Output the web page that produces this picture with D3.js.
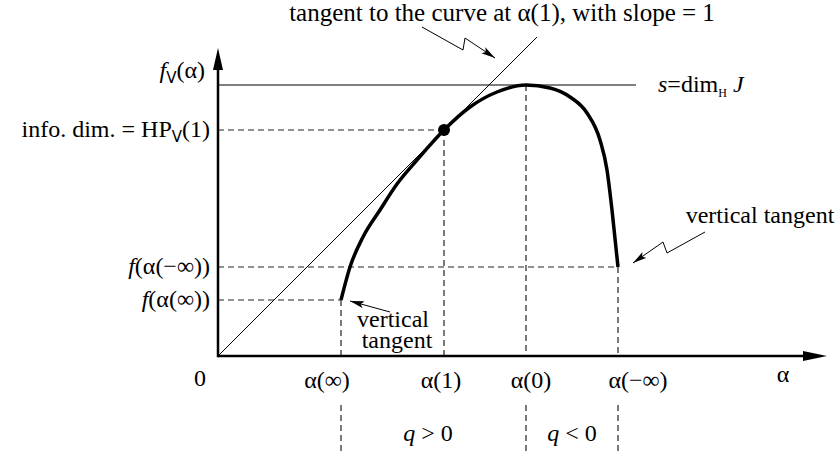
<!DOCTYPE html>
<html>
<head>
<meta charset="utf-8">
<script src="https://cdn.jsdelivr.net/npm/d3@7"></script>
</head>
<body style="margin:0">
<script>
// alpha positions marked on the horizontal axis
var alphaNames  = ["α(∞)", "α(1)", "α(0)", "α(−∞)"];
var alphaValues = [1.23, 2.26, 3.08, 4.00];

// levels marked on the vertical axis
var levelNames  = ["f(α(∞))", "f(α(−∞))", "info", "s"];
var levelValues = [0.56, 0.89, 2.26, 2.71];

// the f(alpha) curve
var curveAlpha = [1.23, 1.32, 1.45, 1.62, 1.79, 1.99, 2.26, 2.52, 2.79, 3.08, 3.32, 3.52, 3.69, 3.82, 3.89, 3.94, 4.00];
var curveF     = [0.56, 0.89, 1.19, 1.46, 1.72, 1.96, 2.26, 2.49, 2.64, 2.71, 2.68, 2.59, 2.43, 2.16, 1.86, 1.46, 0.89];

// axis extents and the slope-1 tangent
var axisMax    = [6.09, 3.08];
var tangentEnd = 3.19;
var sLineEnd   = 4.18;

var W = 839, H = 459;
var svg = d3.select("body").append("svg")
  .attr("width", W).attr("height", H);

var x = d3.scaleLinear().domain([0, axisMax[0]]).range([218, 827]);
var y = d3.scaleLinear().domain([0, axisMax[1]]).range([356, 48]);

var defs = svg.append("defs");
defs.append("marker").attr("id", "ptr")
  .attr("viewBox", "0 0 14 8").attr("refX", 14).attr("refY", 4)
  .attr("markerWidth", 14).attr("markerHeight", 8)
  .attr("markerUnits", "userSpaceOnUse").attr("orient", "auto")
  .append("path").attr("d", "M0,0.5 L14,4 L0,7.5 L3,4 Z").attr("fill", "#000");

var dash = "6,4";
var ink = "#222";

// dashed guides
var iInf = 0, i1 = 1, i0 = 2, iNeg = 3;
function dline(x1, y1, x2, y2) {
  svg.append("line")
    .attr("x1", x1).attr("y1", y1).attr("x2", x2).attr("y2", y2)
    .attr("stroke", ink).attr("stroke-width", 1.2)
    .attr("stroke-dasharray", dash);
}
dline(x(0), y(levelValues[2]), x(alphaValues[i1]), y(levelValues[2]));
dline(x(alphaValues[i1]), y(levelValues[2]), x(alphaValues[i1]), y(0));
dline(x(0), y(levelValues[1]), x(alphaValues[iNeg]), y(levelValues[1]));
dline(x(alphaValues[iNeg]), y(levelValues[1]), x(alphaValues[iNeg]), y(0));
dline(x(0), y(levelValues[0]), x(alphaValues[iInf]), y(levelValues[0]));
dline(x(alphaValues[iInf]), y(levelValues[0]), x(alphaValues[iInf]), y(0));
dline(x(alphaValues[i0]), y(levelValues[3]), x(alphaValues[i0]), y(0));
// q-range separators below the axis
[iInf, i0, iNeg].forEach(function (i) {
  dline(x(alphaValues[i]), 405, x(alphaValues[i]), 453);
});

// s line and tangent line
svg.append("line")
  .attr("x1", x(0)).attr("y1", y(levelValues[3]))
  .attr("x2", x(sLineEnd)).attr("y2", y(levelValues[3]))
  .attr("stroke", "#000").attr("stroke-width", 1);
svg.append("line")
  .attr("x1", x(0)).attr("y1", y(0))
  .attr("x2", x(tangentEnd)).attr("y2", y(tangentEnd))
  .attr("stroke", "#000").attr("stroke-width", 1);

// axes with filled arrowheads
svg.append("line")
  .attr("x1", x(0)).attr("y1", y(0)).attr("x2", x(axisMax[0]) - 20).attr("y2", y(0))
  .attr("stroke", "#000").attr("stroke-width", 2.5);
svg.append("line")
  .attr("x1", x(0)).attr("y1", y(0) + 1.2).attr("x2", x(0)).attr("y2", y(axisMax[1]) + 18)
  .attr("stroke", "#000").attr("stroke-width", 2.5);
svg.append("path")
  .attr("d", d3.line()([[x(axisMax[0]), y(0)], [x(axisMax[0]) - 24, y(0) - 5], [x(axisMax[0]) - 24, y(0) + 5]]) + "Z")
  .attr("fill", "#000");
svg.append("path")
  .attr("d", d3.line()([[x(0), y(axisMax[1])], [x(0) - 5, y(axisMax[1]) + 22], [x(0) + 5, y(axisMax[1]) + 22]]) + "Z")
  .attr("fill", "#000");

// the curve
var pts = curveAlpha.map(function (a, i) { return [x(a), y(curveF[i])]; });
svg.append("path")
  .attr("d", d3.line().curve(d3.curveMonotoneX)(pts))
  .attr("fill", "none").attr("stroke", "#000")
  .attr("stroke-width", 3.5).attr("stroke-linecap", "butt");

svg.append("circle")
  .attr("cx", x(alphaValues[i1])).attr("cy", y(levelValues[2])).attr("r", 6)
  .attr("fill", "#000");

var fs = 24;

function txt(px, py, anchor) {
  return svg.append("text").attr("x", px).attr("y", py)
    .attr("font-size", fs).attr("font-family", "Liberation Serif")
    .attr("text-anchor", anchor);
}

// x labels
var xLabelDx = [-14, -3, 5, 20];
alphaNames.forEach(function (t, i) {
  txt(x(alphaValues[i]) + xLabelDx[i], 388, "middle").text(t);
});
txt(x(0) - 18, 386, "middle").text("0");
txt(783, 382, "middle").text("α");

// y labels
function ylab(i) {
  return txt(x(0) - 8, y(levelValues[i]) + 7, "end");
}
ylab(0).call(function (t) {
  t.append("tspan").attr("font-style", "italic").text("f");
  t.append("tspan").text("(α(∞))");
});
ylab(1).call(function (t) {
  t.append("tspan").attr("font-style", "italic").text("f");
  t.append("tspan").text("(α(−∞))");
});
ylab(2).call(function (t) {
  t.append("tspan").text("info. dim. = HP");
  t.append("tspan").attr("font-family", "DejaVu Sans").attr("font-size", 15).attr("dy", 5).text("V");
  t.append("tspan").attr("dy", -5).text("(1)");
});

// f_v(alpha) axis title
txt(x(0) - 13, 78, "end").call(function (t) {
  t.append("tspan").attr("font-style", "italic").text("f");
  t.append("tspan").attr("font-family", "DejaVu Sans").attr("font-size", 15).attr("dy", 5).text("V");
  t.append("tspan").attr("dy", -5).text("(α)");
});

// s = dim_H J
txt(658, y(levelValues[3]) + 7, "start").call(function (t) {
  t.append("tspan").attr("font-style", "italic").text("s");
  t.append("tspan").text("=dim");
  t.append("tspan").attr("font-size", 12).attr("dy", 5).text("H");
  t.append("tspan").attr("dy", -5).attr("font-style", "italic").text(" J");
});

// q ranges
txt(428, 441, "middle").call(function (t) {
  t.append("tspan").attr("font-style", "italic").text("q");
  t.append("tspan").text(" > 0");
});
txt(572, 441, "middle").call(function (t) {
  t.append("tspan").attr("font-style", "italic").text("q");
  t.append("tspan").text(" < 0");
});

// annotations
txt(502, 21, "middle").attr("font-size", 25).text("tangent to the curve at α(1), with slope = 1");
txt(760, 223, "middle").text("vertical tangent");
txt(393, 327, "middle").text("vertical");
txt(397, 348, "middle").text("tangent");

function arrow(p) {
  svg.append("path").attr("d", d3.line()(p))
    .attr("fill", "none").attr("stroke", "#000").attr("stroke-width", 1)
    .attr("marker-end", "url(#ptr)");
}
arrow([[422, 27], [463, 50], [465, 38], [495, 58]]);
arrow([[705, 232], [667, 253], [663, 242], [633, 263]]);
arrow([[390, 312], [350, 301]]);
</script>
</body>
</html>
